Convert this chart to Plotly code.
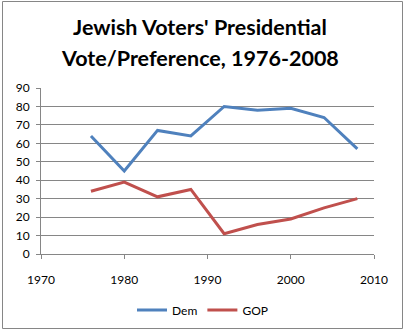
import plotly.graph_objects as go

years = [1976, 1980, 1984, 1988, 1992, 1996, 2000, 2004, 2008]
dem = [64, 45, 67, 64, 80, 78, 79, 74, 57]
gop = [34, 39, 31, 35, 11, 16, 19, 25, 30]
series_names = ["Dem", "GOP"]
title_lines = ["Jewish Voters' Presidential", "Vote/Preference, 1976-2008"]

FONT = "Lato"
GRID = "#868686"
W, H = 405, 331

fig = go.Figure()
fig.add_trace(go.Scatter(x=years, y=dem, name=series_names[0], mode="lines",
                         line=dict(color="#4F81BD", width=3)))
fig.add_trace(go.Scatter(x=years, y=gop, name=series_names[1], mode="lines",
                         line=dict(color="#C0504D", width=3)))

fig.update_layout(
    width=W, height=H,
    margin=dict(l=41, r=31, t=88, b=77, autoexpand=False),
    paper_bgcolor="white", plot_bgcolor="white",
    font=dict(family=FONT, size=12, color="#000000"),
    xaxis=dict(range=[1970, 2010], tickvals=[1970, 1980, 1990, 2000, 2010],
               showgrid=False, zeroline=False, showline=True, linecolor=GRID,
               linewidth=1, ticks="outside", ticklen=4, tickcolor=GRID,
               tickfont=dict(size=12), ticklabelstandoff=11, fixedrange=True),
    yaxis=dict(range=[0, 90], dtick=10, showgrid=True, gridcolor=GRID, gridwidth=1,
               zeroline=False, showline=True, linecolor=GRID, linewidth=1,
               ticks="outside", ticklen=4, tickcolor=GRID, tickfont=dict(size=12),
               ticklabelstandoff=4, fixedrange=True),
    legend=dict(orientation="h", x=0.5, xanchor="center", xref="container",
                y=1 - 310 / H, yanchor="middle", yref="container",
                font=dict(size=12), itemwidth=30, tracegroupgap=0),
    showlegend=True,
)
for i, line in enumerate(title_lines):
    fig.add_annotation(text=line, xref="paper", yref="paper",
                       x=(200 - 41) / 333, y=(254 - (27 + 31 * i)) / 166,
                       xanchor="center", yanchor="middle", showarrow=False,
                       font=dict(family=FONT, size=21.5, color="#000000", weight="bold"))
fig.add_shape(type="rect", xref="paper", yref="paper", layer="above",
              x0=(2.5 - 41) / 333, x1=(402.5 - 41) / 333,
              y0=(254 - 328.5) / 166, y1=(254 - 1.5) / 166,
              line=dict(color="#868686", width=1))
fig.write_html("out.html")
